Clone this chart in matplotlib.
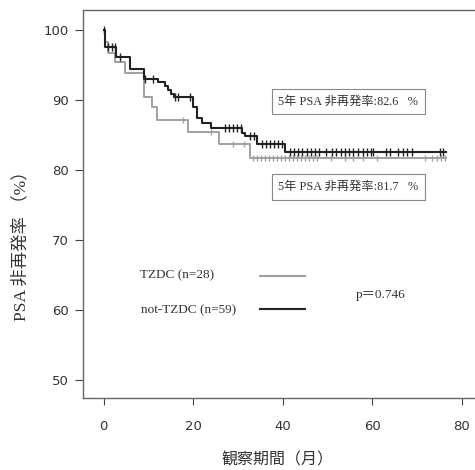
import numpy as np
import matplotlib
matplotlib.use("Agg")
import matplotlib.pyplot as plt

# step tables (month, % free of PSA recurrence)
grp_labels = ["TZDC (n=28)", "not-TZDC (n=59)"]

tz_t = [0, 0.2, 1.0, 2.5, 4.8, 8.9, 10.9, 11.9, 18.9, 25.7, 32.8]
tz_s = [100, 98.3, 96.7, 95.4, 93.9, 90.5, 89.0, 87.1, 85.5, 83.7, 81.7]
tz_cens = [17.8, 24.0, 29.0, 31.3,
           33.3, 34.2, 35.1, 36.0, 36.9, 37.8, 38.7, 39.6, 40.5, 41.4,
           42.3, 43.2, 44.1, 45.0, 45.9, 46.8, 47.7, 50.9, 53.9, 55.8,
           58.0, 61.0, 71.8, 73.3, 74.4, 75.5, 76.3]

nt_t = [0, 0.4, 2.8, 5.9, 9.0, 12.2, 13.7, 14.4, 15.0, 15.8, 20.0, 20.8,
        21.9, 23.9, 31.0, 31.6, 34.2, 40.6]
nt_s = [100, 97.6, 96.2, 94.5, 93.0, 92.6, 92.0, 91.4, 90.8, 90.5, 89.0,
        87.4, 86.7, 86.0, 85.3, 84.8, 83.7, 82.6]
nt_cens = [0, 1.0, 1.8, 2.5, 3.6, 9.2, 11.1, 15.9, 16.7, 19.4,
           27.1, 28.0, 29.0, 29.9, 30.8, 32.7, 33.6,
           35.3, 36.2, 37.2, 38.1, 39.0, 39.8,
           41.6, 42.5, 43.5, 44.4, 45.4, 46.3, 47.2, 48.1, 49.8, 51.0, 51.9,
           53.0, 53.9, 54.9, 55.8, 56.9, 57.9, 58.8, 59.7, 60.1, 63.1, 64.0,
           65.8, 66.9, 67.8, 69.0, 75.1, 75.9]
t_end = 76.6

rate_5y = [81.7, 82.6]
p_value = 0.746

JP = ["Liberation Serif", "Noto Sans CJK JP"]
TXT = "#333333"


def level_at(ts, ss, x):
    idx = np.searchsorted(ts, x, side="right") - 1
    return np.asarray(ss)[idx]


fig = plt.figure(figsize=(4.75, 4.70), dpi=100)
ax = fig.add_axes([0.1747, 0.1532, 0.8253, 0.8255])

#--------------------curves---------------------------------
curves = [(tz_t, tz_s, tz_cens, "#a0a0a0", 1.4, 4),
          (nt_t, nt_s, nt_cens, "#222222", 1.5, 5.5)]
for ts, ss, cens, col, lw, ms in curves:
    xs = list(ts) + [t_end]
    ys = list(ss) + [ss[-1]]
    ax.step(xs, ys, where="post", color=col, lw=lw)
    ax.plot(cens, level_at(ts, ss, cens), ls="none", marker="|",
            color=col, ms=ms, mew=1.0)

# legend-like labels
ax.text(8.1, 65.0, grp_labels[0], family=JP, fontsize=9.5, color=TXT,
        va="center")
ax.text(8.3, 60.0, grp_labels[1], family=JP, fontsize=9.5, color=TXT,
        va="center")
ax.plot([34.9, 45.0], [64.9, 64.9], color="#a0a0a0", lw=1.5)
ax.plot([34.9, 45.0], [60.1, 60.1], color="#222222", lw=1.5)
ax.text(56.4, 62.2, "p\uff1d%.3f" % p_value, family=JP, fontsize=9.5,
        color=TXT, va="center")

# 5-year rate boxes
box = dict(boxstyle="square,pad=0.55", fc="white", ec="#888888", lw=0.8)
ax.text(54.7, 89.8, "5年 PSA 非再発率:%.1f   %%" % rate_5y[1], family=JP,
        fontsize=8.8, color=TXT, ha="center", va="center", bbox=box)
ax.text(54.7, 77.6, "5年 PSA 非再発率:%.1f   %%" % rate_5y[0], family=JP,
        fontsize=8.8, color=TXT, ha="center", va="center", bbox=box)

#--------------------axes---------------------------------
ax.set_xlim(-4.63, 83.0)
ax.set_ylim(47.43, 102.86)
ax.set_xticks([0, 20, 40, 60, 80])
ax.set_yticks([50, 60, 70, 80, 90, 100])
ax.tick_params(axis="x", length=5, pad=11, labelsize=9.5, colors="#444444",
               labelcolor="#333333")
ax.tick_params(axis="y", length=6, pad=4, labelsize=9.5, colors="#444444",
               labelcolor="#333333")
for side in ["left", "bottom", "top"]:
    ax.spines[side].set_color("#666666")
    ax.spines[side].set_linewidth(1.0)
ax.spines["right"].set_visible(False)

fig.text(21 / 475, 1 - 242 / 470, "PSA 非再発率 （%）", family=JP, fontsize=12.5,
         color=TXT, rotation=90, ha="center", va="center")
fig.text(278 / 475, 1 - 460 / 470, "観察期間（月）", family=JP, fontsize=11.5,
         color=TXT, ha="center", va="center")

plt.savefig("out.png", dpi=100)
